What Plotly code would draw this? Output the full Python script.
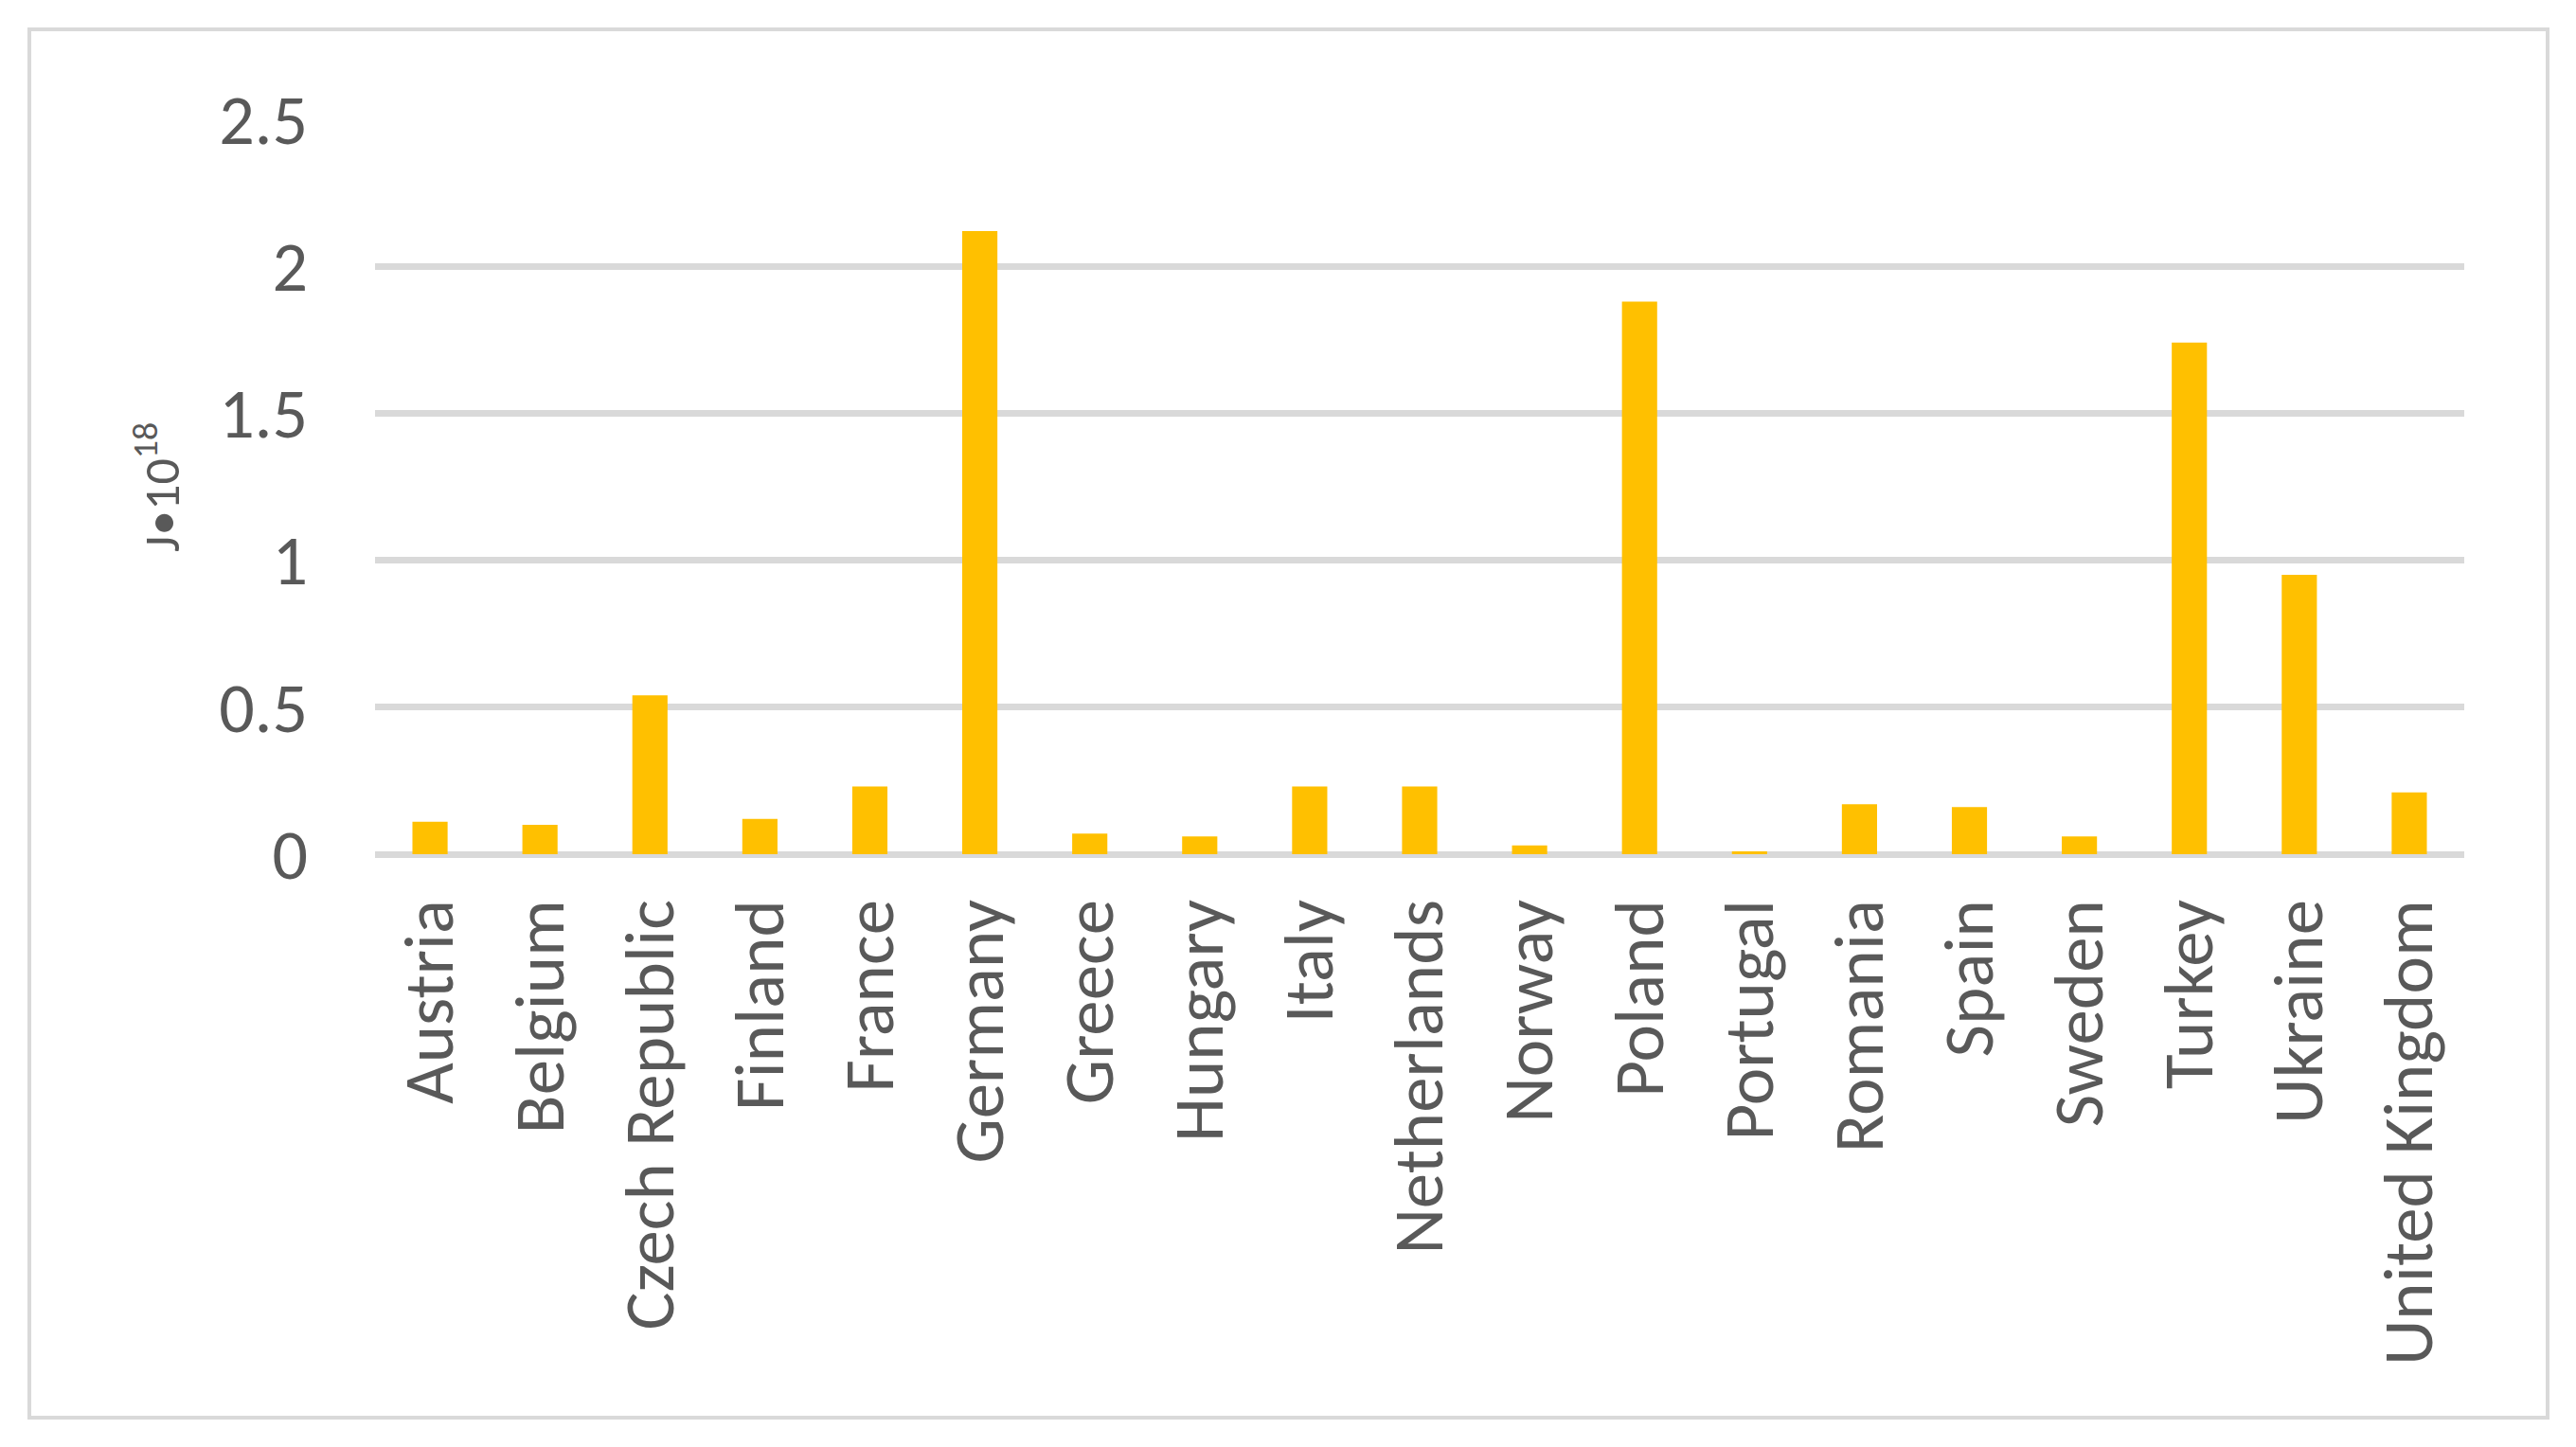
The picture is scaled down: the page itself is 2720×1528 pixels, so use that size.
import plotly.graph_objects as go

countries = ["Austria", "Belgium", "Czech Republic", "Finland", "France", "Germany",
             "Greece", "Hungary", "Italy", "Netherlands", "Norway", "Poland",
             "Portugal", "Romania", "Spain", "Sweden", "Turkey", "Ukraine",
             "United Kingdom"]
values = [0.11, 0.10, 0.54, 0.12, 0.23, 2.12, 0.07, 0.06, 0.23, 0.23, 0.03, 1.88,
          0.01, 0.17, 0.16, 0.06, 1.74, 0.95, 0.21]
y_ticks = [0, 0.5, 1, 1.5, 2, 2.5]
y_tick_labels = ["0", "0.5", "1", "1.5", "2", "2.5"]

W, H = 2720, 1528
OFF = 8  # page body margin
L, R, T, B = 396 - OFF, 118 + OFF, 125 - OFF, 626 + OFF
pw = W - L - R
ph = H - T - B
YMAX = 2.503

FONT = "Carlito, Lato, 'Liberation Sans', sans-serif"
GRAY = "#595959"
GRID = "#D9D9D9"

fig = go.Figure(go.Bar(x=countries, y=values, marker=dict(color="#FFC000", line=dict(width=0))))

fig.update_layout(
    width=W, height=H,
    margin=dict(l=L, r=R, t=T, b=B, pad=0),
    paper_bgcolor="white", plot_bgcolor="white",
    bargap=0.68,
    showlegend=False,
    font=dict(family=FONT, color=GRAY, size=74),
)
fig.update_xaxes(
    tickangle=-90, showgrid=False, zeroline=False, showline=False,
    ticks="", ticklabelstandoff=32,
    tickfont=dict(family=FONT, size=75, color=GRAY),
)
fig.update_yaxes(
    range=[0, YMAX], tickvals=y_ticks, ticktext=y_tick_labels,
    showgrid=True, gridcolor=GRID, gridwidth=7,
    zeroline=True, zerolinecolor=GRID, zerolinewidth=7,
    showline=False, ticks="", ticklabelstandoff=70,
    tickfont=dict(family=FONT, size=74, color=GRAY),
)

# y axis title
fig.add_annotation(
    text="J•10<sup>18</sup>", textangle=-90, showarrow=False,
    xref="paper", yref="paper",
    x=(167 - OFF - L) / pw, y=(H - B - (515 - OFF)) / ph,
    xanchor="center", yanchor="middle",
    font=dict(family=FONT, size=54, color=GRAY),
)

# outer frame
fig.add_shape(
    type="rect", xref="paper", yref="paper",
    x0=(31 - OFF - L) / pw, x1=(2690 - OFF - L) / pw,
    y0=(H - B - (1497 - OFF)) / ph, y1=(H - B - (31 - OFF)) / ph,
    line=dict(color=GRID, width=4), fillcolor="rgba(0,0,0,0)", layer="below",
)

fig.write_html("out.html")
